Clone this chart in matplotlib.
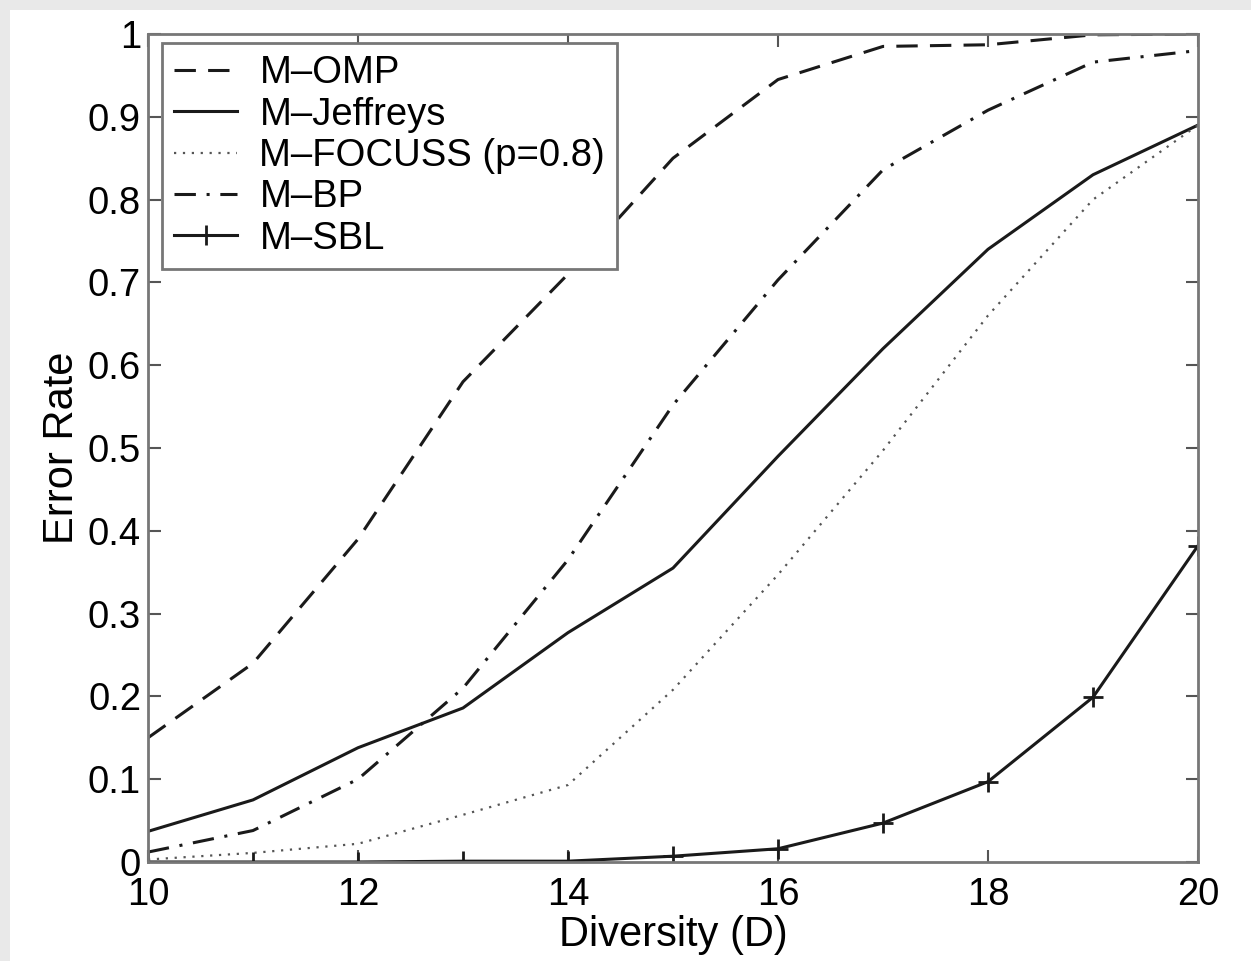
import matplotlib
matplotlib.use("Agg")
import matplotlib.pyplot as plt
from matplotlib.patches import Rectangle
from matplotlib.ticker import FixedLocator, FixedFormatter

plt.rcParams['font.family'] = ['Liberation Sans', 'DejaVu Sans']

# Diversity values
diversity = [10, 11, 12, 13, 14, 15, 16, 17, 18, 19, 20]

# Error rates per algorithm
err_omp = [0.15, 0.24, 0.39, 0.58, 0.71, 0.85, 0.945, 0.985, 0.987, 0.999, 1.0]
err_jeffreys = [0.037, 0.075, 0.138, 0.186, 0.277, 0.355, 0.49, 0.62, 0.74, 0.83, 0.89]
err_focuss = [0.003, 0.011, 0.022, 0.057, 0.093, 0.208, 0.347, 0.497, 0.66, 0.80, 0.89]
err_bp = [0.012, 0.038, 0.10, 0.21, 0.365, 0.552, 0.703, 0.836, 0.908, 0.966, 0.98]
err_sbl = [0.0, 0.0, 0.0, 0.001, 0.001, 0.007, 0.016, 0.047, 0.097, 0.199, 0.382]

labels = ['M\u2013OMP', 'M\u2013Jeffreys', 'M\u2013FOCUSS (p=0.8)', 'M\u2013BP', 'M\u2013SBL']

xticks = [10, 12, 14, 16, 18, 20]
yticks = [0, 0.1, 0.2, 0.3, 0.4, 0.5, 0.6, 0.7, 0.8, 0.9, 1.0]
ytick_labels = ['0', '0.1', '0.2', '0.3', '0.4', '0.5', '0.6', '0.7', '0.8', '0.9', '1']

W, H = 1251, 961
fig = plt.figure(figsize=(W / 100, H / 100), dpi=100, facecolor='#e9e9e9')
# white page area with a light grey band along the top and left edges
fig.patches.append(Rectangle((10 / W, 0), (W - 10) / W, (H - 10) / H, transform=fig.transFigure,
                             facecolor='white', edgecolor='none', zorder=-10))

ax = fig.add_axes([148 / W, 1 - 862 / H, 1050 / W, 828 / H])
ax.set_zorder(1)
ax.set_facecolor('white')

lw = 2.2
ax.plot(diversity, err_omp, color='#1a1a1a', lw=lw, dashes=(7, 4), label=labels[0])
ax.plot(diversity, err_jeffreys, color='#1a1a1a', lw=lw, label=labels[1])
ax.plot(diversity, err_focuss, color='#555555', lw=1.6, dashes=(1, 3), label=labels[2])
ax.plot(diversity, err_bp, color='#1a1a1a', lw=lw, dashes=(7, 3.5, 1, 3.5), label=labels[3])
ax.plot(diversity, err_sbl, color='#1a1a1a', lw=lw, marker='+', markersize=14,
        markeredgewidth=2, label=labels[4])

ax.set_xlim(10, 20)
ax.set_ylim(0, 1)
ax.xaxis.set_major_locator(FixedLocator(xticks))
ax.yaxis.set_major_locator(FixedLocator(yticks))
ax.yaxis.set_major_formatter(FixedFormatter(ytick_labels))

ax.tick_params(direction='in', length=9, width=1.5, color='#555555',
               top=True, right=True, labelsize=27.5)
ax.tick_params(axis='x', pad=11)
ax.tick_params(axis='y', pad=5)
for sp in ax.spines.values():
    sp.set_color('#777777')
    sp.set_linewidth(2)

ax.set_xlabel('Diversity (D)', fontsize=30, labelpad=1)
ax.set_ylabel('Error Rate', fontsize=30, labelpad=4)

leg = ax.legend(loc='upper left', bbox_to_anchor=(14 / 1050, 1 - 9 / 828),
                fontsize=27.5, handlelength=1.65, handletextpad=0.58,
                borderpad=0.32, labelspacing=0.14, borderaxespad=0,
                fancybox=False, framealpha=1)
leg.get_frame().set_edgecolor('#777777')
leg.get_frame().set_linewidth(2)

fig.savefig('out.png', dpi=100, facecolor=fig.get_facecolor())
